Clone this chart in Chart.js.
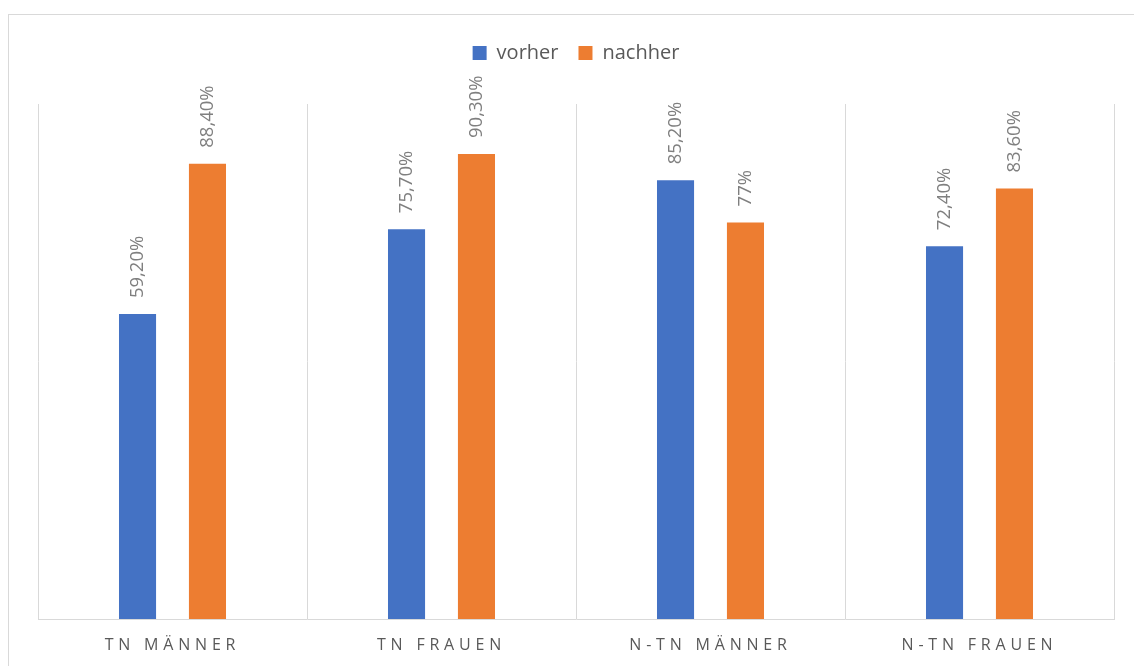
<!DOCTYPE html>
<html lang="de">
<head>
<meta charset="utf-8">
<title>vorher / nachher</title>
<script src="https://cdn.jsdelivr.net/npm/chart.js@4/dist/chart.umd.min.js"></script>
<style>
  html, body { margin: 0; padding: 0; background: #ffffff; overflow: hidden; }
  #frame {
    position: absolute; left: 8px; top: 14px;
    width: 1160px; height: 700px;
    border: 1px solid #d9d9d9; box-sizing: border-box;
  }
  #wrap { position: absolute; left: 0; top: 0; width: 1134px; height: 666px; }
</style>
</head>
<body>
<div id="frame"></div>
<div id="wrap"><canvas id="chart" width="1134" height="666"></canvas></div>
<script>
// Gruppen und Werte (Prozent)
const categories = ['TN MÄNNER', 'TN FRAUEN', 'N-TN MÄNNER', 'N-TN FRAUEN'];
const vorher  = [59.2, 75.7, 85.2, 72.4];
const nachher = [88.4, 90.3, 77.0, 83.6];
const seriesNames = ['vorher', 'nachher'];
const seriesColors = ['#4472C4', '#ED7D31'];

const FONT = "'Open Sans', 'Noto Sans', sans-serif";

// Zahl im deutschen Prozentformat: 59,20% bzw. 77%
function fmtPct(v) {
  return Number.isInteger(v) ? v + '%' : v.toFixed(2).replace('.', ',') + '%';
}

// Senkrecht gedrehte Wertbeschriftungen über den Säulen
const valueLabels = {
  id: 'valueLabels',
  afterDatasetsDraw(chart) {
    const ctx = chart.ctx;
    chart.data.datasets.forEach((ds, di) => {
      const meta = chart.getDatasetMeta(di);
      meta.data.forEach((bar, i) => {
        ctx.save();
        ctx.translate(bar.x, bar.y - 16);
        ctx.rotate(-Math.PI / 2);
        ctx.font = '18.5px ' + FONT;
        ctx.fillStyle = '#7f7f7f';
        ctx.textAlign = 'left';
        ctx.textBaseline = 'middle';
        ctx.fillText(fmtPct(ds.data[i]), 0, 0);
        ctx.restore();
      });
    });
  }
};

// Abstand zwischen Legende und Diagrammfläche
const legendGap = {
  id: 'legendGap',
  beforeInit(chart) {
    const fit = chart.legend.fit;
    chart.legend.fit = function () {
      fit.call(this);
      this.height += 31;
    };
  }
};

// Gesperrte Schrift für die Kategorienbeschriftung
const spacedTicks = {
  id: 'spacedTicks',
  beforeDraw(chart) {
    const xs = chart.scales.x;
    if (xs && !xs._spaced) {
      const orig = xs.drawLabels;
      xs.drawLabels = function (area) {
        const c = this.ctx;
        c.save();
        c.letterSpacing = '4.8px';
        orig.call(this, area);
        c.restore();
      };
      xs._spaced = true;
    }
  }
};

new Chart(document.getElementById('chart'), {
  type: 'bar',
  data: {
    labels: categories,
    datasets: [
      { label: seriesNames[0], data: vorher,  backgroundColor: seriesColors[0] },
      { label: seriesNames[1], data: nachher, backgroundColor: seriesColors[1] }
    ]
  },
  options: {
    responsive: false,
    animation: false,
    layout: { padding: { left: 38, right: 20, top: 23, bottom: 11 } },
    datasets: {
      bar: { categoryPercentage: 0.52, barPercentage: 0.53 }
    },
    scales: {
      x: {
        grid: { display: true, offset: true, color: '#d9d9d9', lineWidth: 1, drawTicks: false },
        border: { display: true, color: '#d9d9d9', width: 1 },
        ticks: { color: '#595959', padding: 17, font: { family: FONT, size: 16 } },
        afterFit(scale) { scale.height = 36; }
      },
      y: { display: false, min: 0, max: 100 }
    },
    plugins: {
      legend: {
        position: 'top',
        labels: {
          boxWidth: 14, boxHeight: 14, padding: 20,
          color: '#595959',
          font: { family: FONT, size: 20 }
        }
      },
      tooltip: { enabled: false }
    }
  },
  plugins: [valueLabels, legendGap, spacedTicks]
});
</script>
</body>
</html>
